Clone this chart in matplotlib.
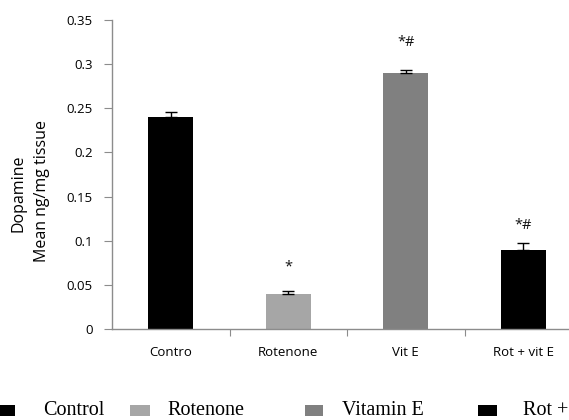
import matplotlib
matplotlib.use("Agg")
import matplotlib.pyplot as plt
from matplotlib.patches import Rectangle

categories = ["Contro", "Rotenone", "Vit E", "Rot + vit E"]
means = [0.24, 0.04, 0.29, 0.09]
errors = [0.0055, 0.003, 0.003, 0.007]
marks = ["", "*", "*#", "*#"]
colors = ["#000000", "#a6a6a6", "#808080", "#000000"]
legend_labels = ["Control", "Rotenone", "Vitamin E", "Rot + vit E"]
yticks = [0, 0.05, 0.1, 0.15, 0.2, 0.25, 0.3, 0.35]
ytick_labels = ["0", "0.05", "0.1", "0.15", "0.2", "0.25", "0.3", "0.35"]

SANS = "Open Sans"
SERIF = "Liberation Serif"
W, H = 569, 420

fig = plt.figure(figsize=(W / 100, H / 100), dpi=100)
# axes run past the right edge, as in the cropped original
ax = fig.add_axes([112 / W, 1 - 329 / H, 470 / W, 309 / H])

x = list(range(len(categories)))
ax.bar(x, means, width=0.383, color=colors, zorder=2)
ax.errorbar(x, means, yerr=[[0] * len(errors), errors], fmt="none",
            ecolor="black", elinewidth=1.0, capsize=4, capthick=1.0, zorder=3)

gaps = [0, 0.027, 0.032, 0.02]
for xi, m, e, g, s in zip(x, means, errors, gaps, marks):
    if s:
        ax.text(xi, m + e + g, s, ha="center", va="center",
                fontsize=10.5, family=SANS, color="#111111")

ax.set_xlim(-0.5, len(categories) - 0.5)
ax.set_ylim(0, 0.35)
ax.set_yticks(yticks)
ax.set_yticklabels(ytick_labels, family=SANS, fontsize=9.5)

# ticks sit on the category boundaries, labels under the bars
ax.set_xticks([i + 0.5 for i in range(len(categories) - 1)])
ax.set_xticklabels([])
ax.set_xticks(x, minor=True)
ax.set_xticklabels(categories, minor=True, family=SANS, fontsize=9.5)

for side in ("top", "right"):
    ax.spines[side].set_visible(False)
for side in ("left", "bottom"):
    ax.spines[side].set_color("#8c8c8c")
    ax.spines[side].set_linewidth(1.0)
ax.tick_params(axis="y", direction="out", length=6, color="#8c8c8c", pad=8)
ax.tick_params(axis="x", which="major", direction="out", length=5, color="#8c8c8c")
ax.tick_params(axis="x", which="minor", length=0, pad=12)

fig.text(19 / W, 1 - 193 / H, "Dopamine", rotation=90, ha="center",
         va="center", fontsize=11.5, family=SANS)
fig.text(42 / W, 1 - 191 / H, "Mean ng/mg tissue", rotation=90,
         ha="center", va="center", fontsize=11.5, family=SANS)

# legend along the bottom edge (cut off on the right like the original)
box_x = [0, 130, 305, 478]
box_w = [15, 20, 18, 19]
text_x = [43, 167, 342, 523]
for c, lab, bx, bw, tx in zip(colors, legend_labels, box_x, box_w, text_x):
    fig.add_artist(Rectangle((bx / W, 1 - 416 / H), bw / W, 11 / H,
                             transform=fig.transFigure, facecolor=c,
                             edgecolor="none"))
    fig.text(tx / W, 1 - 415 / H, lab, ha="left", va="baseline",
             fontsize=14.5, family=SERIF)

fig.savefig("out.png", dpi=100)
